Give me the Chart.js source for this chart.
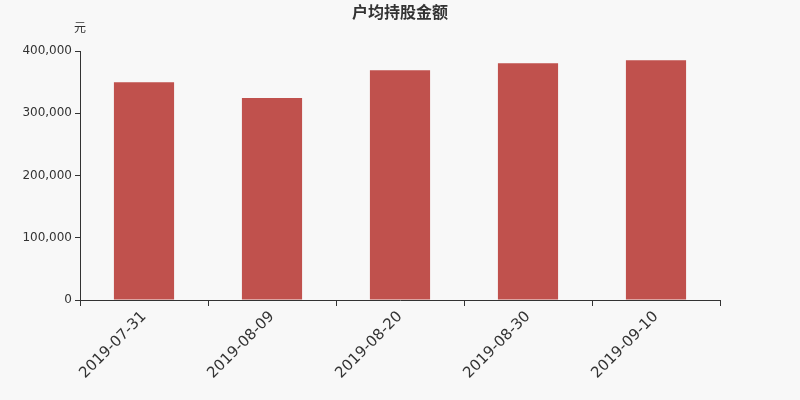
<!DOCTYPE html>
<html>
<head>
<meta charset="utf-8">
<script src="https://cdn.jsdelivr.net/npm/chart.js@4"></script>
<style>
  html, body { margin: 0; padding: 0; background: #f8f8f8; }
  #wrap { width: 800px; height: 400px; }
</style>
</head>
<body>
<div id="wrap"><canvas id="myChart"></canvas></div>
<script>
const chartTitle = "户均持股金额";
const unitLabel = "元";
const dates = ["2019-07-31", "2019-08-09", "2019-08-20", "2019-08-30", "2019-09-10"];
const amounts = [349600, 324300, 369100, 380300, 385100];
const yTicks = [0, 100000, 200000, 300000, 400000];

const textPlugin = {
  id: "textPlugin",
  afterDraw(chart) {
    const ctx = chart.ctx;
    const area = chart.chartArea;
    ctx.save();
    ctx.fillStyle = "#333";
    ctx.textAlign = "center";
    ctx.textBaseline = "middle";
    ctx.font = "bold 16px 'DejaVu Sans', 'Noto Sans CJK SC', sans-serif";
    ctx.fillText(chartTitle, 400, 14);
    ctx.font = "12px 'DejaVu Sans', 'Noto Sans CJK SC', sans-serif";
    ctx.fillText(unitLabel, area.left, 29);
    ctx.restore();
  }
};

const data = {
  labels: dates,
  datasets: [
    {
      label: chartTitle,
      data: amounts,
      backgroundColor: "rgb(192, 81, 77)",
      borderWidth: 0,
      categoryPercentage: 1,
      barPercentage: 0.47,
    },
  ],
};

const config = {
  type: "bar",
  data: data,
  options: {
    responsive: true,
    maintainAspectRatio: false,
    animation: false,
    layout: { padding: { top: 51, right: 80, left: 0, bottom: 0 } },
    plugins: {
      legend: { display: false },
      title: { display: false },
      tooltip: { enabled: false },
    },
    scales: {
      x: {
        grid: { display: true, drawOnChartArea: false, offset: true, color: "#333", tickLength: 6 },
        border: { color: "#333" },
        ticks: {
          color: "#333",
          font: { size: 15, family: "'DejaVu Sans', sans-serif" },
          maxRotation: 45,
          minRotation: 45,
          padding: 2,
        },
        afterFit(axis) { axis.height = 100; },
      },
      y: {
        min: 0,
        max: 400000,
        afterBuildTicks(axis) { axis.ticks = yTicks.map((v) => ({ value: v })); },
        grid: { display: true, drawOnChartArea: false, color: "#333", tickLength: 5 },
        border: { color: "#333" },
        ticks: {
          color: "#333",
          font: { size: 12, family: "'DejaVu Sans', sans-serif" },
          padding: 3,
          callback: (v) => v.toLocaleString("en-US"),
        },
        afterFit(axis) { axis.width = 80; },
      },
    },
  },
  plugins: [textPlugin],
};

const ctx = document.getElementById("myChart");
const myChart = new Chart(ctx.getContext("2d"), config);
</script>
</body>
</html>
